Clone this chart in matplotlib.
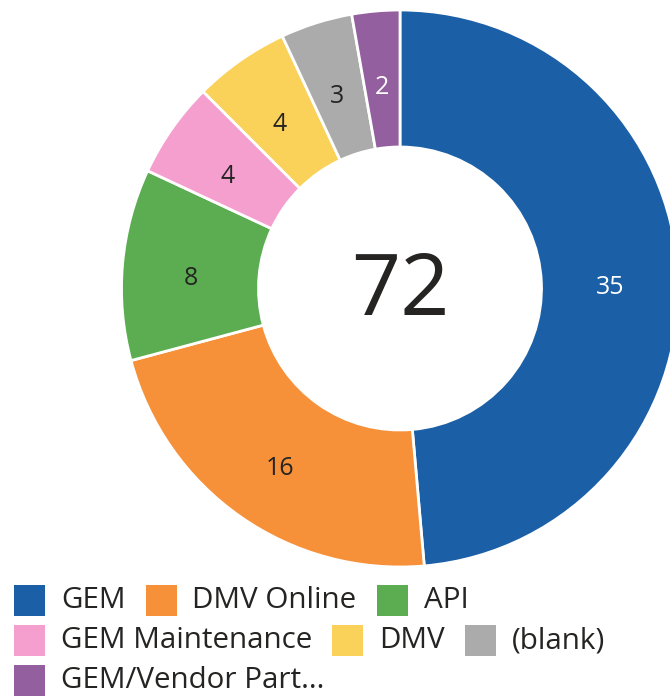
import numpy as np
import matplotlib
matplotlib.use("Agg")
import matplotlib.pyplot as plt
from matplotlib.patches import Rectangle

plt.rcParams['font.family'] = ['Open Sans', 'DejaVu Sans']

# Data
categories = ['GEM', 'DMV Online', 'API', 'GEM Maintenance', 'DMV', '(blank)', 'GEM/Vendor Part...']
counts = [35, 16, 8, 4, 4, 3, 2]
colors = ['#1b5fa6', '#f6913a', '#5cad52', '#f59fcf', '#fad25a', '#ababab', '#935f9f']
label_colors = ['white', '#252423', '#252423', '#252423', '#252423', '#252423', 'white']
legend_rows = [[0, 1, 2], [3, 4, 5], [6]]

W, H = 670, 699
fig = plt.figure(figsize=(W / 100, H / 100), dpi=100)
ax = fig.add_axes([0, 0, 1, 1])

# Donut (pixel coordinates, y measured from bottom)
cx, cy = 400, H - 288.5
R_out, R_in = 278.5, 141.5
wedges, _ = ax.pie(counts, colors=colors, startangle=90, counterclock=False,
                   center=(cx, cy), radius=R_out, frame=True,
                   wedgeprops=dict(width=R_out - R_in, edgecolor='white', linewidth=2))
ax.set_xlim(0, W)
ax.set_ylim(0, H)
ax.set_aspect('equal')
ax.axis('off')

# value labels in the middle of each ring segment
r_lab = (R_out + R_in) / 2
for w, val, lc in zip(wedges, counts, label_colors):
    ang = np.deg2rad((w.theta1 + w.theta2) / 2)
    ax.text(cx + r_lab * np.cos(ang), cy + r_lab * np.sin(ang) - 8, str(val),
            ha='center', va='center', fontsize=18, color=lc)

# Total in the middle
ax.text(cx, cy - 4, str(sum(counts)), ha='center', va='center',
        fontsize=62, color='#252423')

# Legend
fig.canvas.draw()
renderer = fig.canvas.get_renderer()
sq = 31
row_y = [600, 640, 680]
for ri, row in enumerate(legend_rows):
    x = 14
    yc = H - row_y[ri]
    for idx in row:
        ax.add_patch(Rectangle((x, yc - sq / 2), sq, sq, facecolor=colors[idx],
                               edgecolor='none'))
        t = ax.text(x + sq + 16, yc - 1, categories[idx], ha='left', va='center',
                    fontsize=21.3, color='#252423')
        bb = t.get_window_extent(renderer=renderer)
        x = bb.x1 + 20

fig.savefig('out.png', dpi=100, facecolor='white')
